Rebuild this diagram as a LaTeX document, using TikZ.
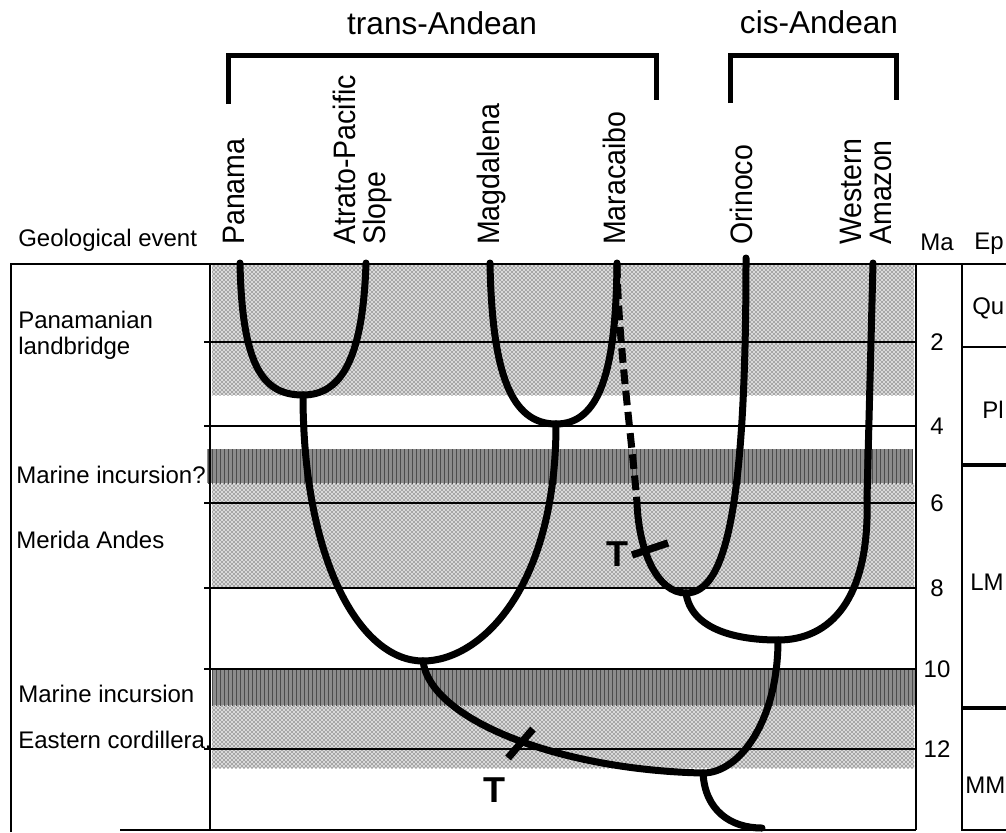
\documentclass[tikz,border=0pt]{standalone}
\usepackage{fontspec}
\setmainfont{Liberation Sans}
\usetikzlibrary{patterns}
\tikzset{
  frame/.style={line width=1.5pt},
  bracket/.style={line width=3.75pt},
  branch/.style={line width=5.25pt, line cap=round},
  tbar/.style={line width=5.5pt},
  stipple/.style={fill=black!15, postaction={pattern=crosshatch dots, pattern color=black}},
  incursion/.style={fill=black!45, postaction={pattern=vertical lines, pattern color=black!70}},
  lbl/.style={inner sep=0pt, font=\fontsize{18}{19.5}\selectfont},
  group/.style={inner sep=0pt, font=\fontsize{23.7}{26}\selectfont},
  taxon/.style={inner sep=0pt, rotate=90, xscale=0.92, anchor=north west, align=left,
    font=\fontsize{23.25}{22.5}\selectfont},
  tmark/.style={inner sep=0pt, font=\fontsize{27}{27}\bfseries\selectfont}
}

\begin{document}
\begin{tikzpicture}[x=0.75pt,y=-0.75pt]
\useasboundingbox (0,0) rectangle (1006,832);

% bands
\path[stipple] (212,265) rectangle (914,395);
\path[stipple] (212,483) rectangle (914,588);
\path[stipple] (212,705) rectangle (914,768);
\path[incursion] (207,449) rectangle (913,483);
\path[incursion] (212,670) rectangle (916,705);

% table frame
\draw[frame] (11,832) -- (11,264) -- (1006,264);
\draw[frame] (210,264) -- (210,830);
\draw[frame] (916,264) -- (916,830);
\draw[frame] (962,264) -- (962,830) -- (1006,830);
\draw[frame] (120,830) -- (916,830);
\foreach \y/\ma in {342/2,426/4,503/6,588/8,669/10,749/12}{
  \draw[frame] (204,\y) -- (916,\y);
  \node[lbl] (ma\ma) at (937,\y) {\ma};
}
\draw[frame] (962,347) -- (1006,347);
\draw[line width=2.6pt] (962,465) -- (1006,465);
\draw[line width=2.6pt] (962,708) -- (1006,708);

% headers
\node[lbl, anchor=base west] (geo) at (18,246) {Geological event};
\node[lbl, anchor=base west] (ma) at (920,250) {Ma};
\node[lbl, anchor=base west] (ep) at (974,249) {Ep};
\node[group, anchor=base] (trans) at (442,34) {trans-Andean};
\node[group, anchor=base] (cis) at (819,33) {cis-Andean};
\draw[bracket] (228,104) -- (228,55) -- (656,55) -- (656,100);
\draw[bracket] (730,103) -- (730,55) -- (896,55) -- (896,100);

\node[taxon] (lpan) at (223,245) {Panama};
\node[taxon] (latr) at (333,245) {Atrato-Pacific\\Slope};
\node[taxon] (lmag) at (477,245) {Magdalena};
\node[taxon] (lmar) at (603,245) {Maracaibo};
\node[taxon] (lori) at (730,245) {Orinoco};
\node[taxon] (lama) at (840,245) {Western\\Amazon};

% events and epochs
\node[lbl, anchor=west, align=left] (bridge) at (18,335) {Panamanian\\landbridge};
\node[lbl, anchor=base west] (inc1) at (16,483) {Marine incursion?};
\node[lbl, anchor=base west] (merida) at (16,548) {Merida Andes};
\node[lbl, anchor=base west] (inc2) at (18,702) {Marine incursion};
\node[lbl, anchor=base west] (eastern) at (18,748) {Eastern cordillera.};
\node[lbl, anchor=west] (qu) at (972,308) {Qu};
\node[lbl, anchor=west] (pl) at (982,410) {Pl};
\node[lbl, anchor=west] (lm) at (970,582) {LM};
\node[lbl, anchor=west] (mm) at (965,785) {MM};

% tree
\coordinate (pan) at (240,263);
\coordinate (atr) at (366,263);
\coordinate (mag) at (490,263);
\coordinate (mar) at (617,263);
\coordinate (ori) at (746,258);
\coordinate (ama) at (873,263);
\coordinate (nPA) at (303,395);
\coordinate (nMM) at (556,424);
\coordinate (nTA) at (423,661);
\coordinate (marB) at (637,503);
\coordinate (amaB) at (867,498);
\coordinate (nMO) at (686,593);
\coordinate (nCis) at (778,640);
\coordinate (root) at (703,773);
\coordinate (rootB) at (762,828);

\draw[branch] (pan) .. controls +(2,107) and +(-38,0) .. (nPA);
\draw[branch] (atr) .. controls +(-3,92) and +(40,0) .. (nPA);
\draw[branch] (mag) .. controls +(2,110) and +(-45,0) .. (nMM);
\draw[branch] (mar) .. controls +(-1,110) and +(43,0) .. (nMM);
\draw[branch] (nPA) .. controls +(0,165) and +(-63,0) .. (nTA);
\draw[branch] (nMM) .. controls +(0,165) and +(57,0) .. (nTA);
\draw[branch, line cap=butt, dash pattern=on 11pt off 5pt] (mar) .. controls +(1,77) and +(-5,-63) .. (marB);
\draw[branch] (marB) .. controls +(2,50) and +(-28,0) .. (nMO);
\draw[branch] (ori) .. controls +(0,250) and +(40,0) .. (nMO);
\draw[branch] (ama) -- (amaB);
\draw[branch] (nMO) .. controls +(5,35) and +(-45,0) .. (nCis);
\draw[branch] (amaB) .. controls +(3,102) and +(52,0) .. (nCis);
\draw[branch] (nTA) .. controls +(7,59) and +(-143,-3) .. (root);
\draw[branch] (nCis) .. controls +(0,80) and +(37,0) .. (root);
\draw[branch] (root) .. controls +(2,37) and +(-32,0) .. (rootB);

% transitions
\draw[tbar] (632,555) -- (668,543);
\draw[tbar] (508,758) -- (533,729);
\node[tmark] (t1) at (617,554) {T};
\node[tmark] (t2) at (494,790) {T};
\end{tikzpicture}
\end{document}
